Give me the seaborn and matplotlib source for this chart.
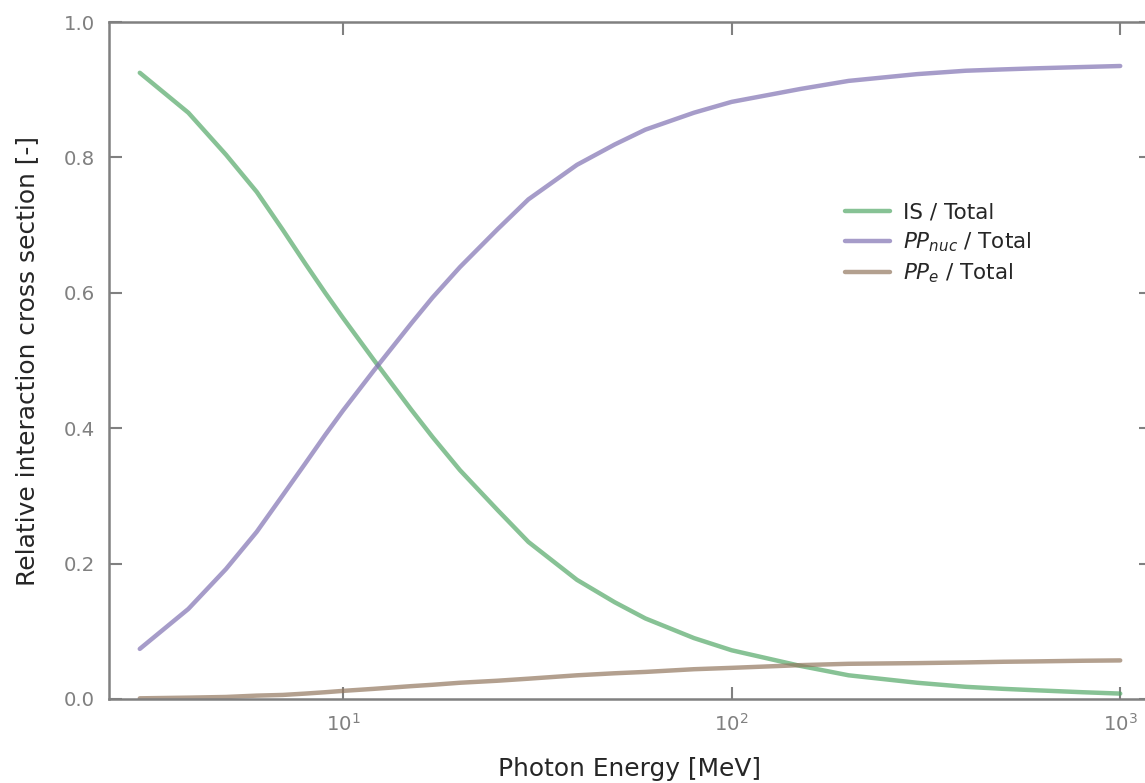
import numpy as np
import pandas as pd
import matplotlib
matplotlib.use("Agg")
import matplotlib.pyplot as plt
import matplotlib.ticker as mticker
import seaborn as sns

energy = [3, 4, 5, 6, 7, 8, 9, 10, 12, 15, 17, 20, 25, 30, 40, 50, 60, 80, 100,
          150, 200, 300, 400, 500, 600, 800, 1000]
is_total = [0.925, 0.866, 0.804, 0.749, 0.693, 0.643, 0.600, 0.563, 0.501, 0.427, 0.387, 0.338,
            0.279, 0.232, 0.176, 0.143, 0.119, 0.090, 0.072,
            0.049, 0.035, 0.024, 0.018, 0.015, 0.013, 0.010, 0.008]
ppnuc_total = [0.074, 0.133, 0.192, 0.247, 0.301, 0.348, 0.390, 0.426, 0.485, 0.555, 0.593, 0.638,
               0.694, 0.738, 0.789, 0.819, 0.841, 0.866, 0.882,
               0.901, 0.913, 0.923, 0.928, 0.930, 0.9315, 0.9335, 0.935]
ppe_total = [0.001, 0.002, 0.003, 0.005, 0.006, 0.008, 0.010, 0.012, 0.015, 0.019, 0.021, 0.024,
             0.027, 0.030, 0.035, 0.038, 0.040, 0.044, 0.046,
             0.050, 0.052, 0.053, 0.054, 0.055, 0.0555, 0.0565, 0.057]
labels = ["IS / Total", "$PP_{nuc}$ / Total", "$PP_e$ / Total"]

df = pd.concat([
    pd.DataFrame({"E": energy, "v": is_total, "s": labels[0]}),
    pd.DataFrame({"E": energy, "v": ppnuc_total, "s": labels[1]}),
    pd.DataFrame({"E": energy, "v": ppe_total, "s": labels[2]}),
])

sns.set_theme(style="ticks")
deep = sns.color_palette("deep")
palette = {labels[0]: deep[2], labels[1]: deep[4], labels[2]: deep[5]}

W, H = 1145, 783
fig = plt.figure(figsize=(W / 100, H / 100), dpi=100)
ax = fig.add_axes([109 / W, (H - 699) / H, (1151 - 109) / W, 677 / H])

sns.lineplot(data=df, x="E", y="v", hue="s", palette=palette, ax=ax,
             linewidth=3.2, alpha=0.7, legend=True)

ax.set_xscale("log")
ax.set_xlim(2.5, 1200)
ax.set_ylim(0, 1.0)
ax.xaxis.set_major_locator(mticker.LogLocator(base=10, numticks=10))
ax.xaxis.set_minor_locator(mticker.NullLocator())
ax.set_yticks([0.0, 0.2, 0.4, 0.6, 0.8, 1.0])
ax.yaxis.set_major_formatter(mticker.FormatStrFormatter("%.1f"))

grey = "#808080"
for sp in ax.spines.values():
    sp.set_visible(True)
    sp.set_color(grey)
    sp.set_linewidth(1.8)
ax.tick_params(axis="both", which="major", direction="in", length=9, width=1.5,
               color=grey, labelcolor=grey, labelsize=14.2, top=True, right=True, pad=10)

ax.set_xlabel("Photon Energy [MeV]", fontsize=17.9, color="#262626", labelpad=16)
ax.set_ylabel("Relative interaction cross section [-]", fontsize=17.9, color="#262626", labelpad=18)

leg = ax.legend(loc="upper left", bbox_to_anchor=(0.688, 0.762), frameon=False, fontsize=15.5,
                handlelength=2.1, labelspacing=0.36, handletextpad=0.6)
for line in leg.get_lines():
    line.set_linewidth(3.2)
    line.set_alpha(0.7)

fig.savefig("out.png", dpi=100)
